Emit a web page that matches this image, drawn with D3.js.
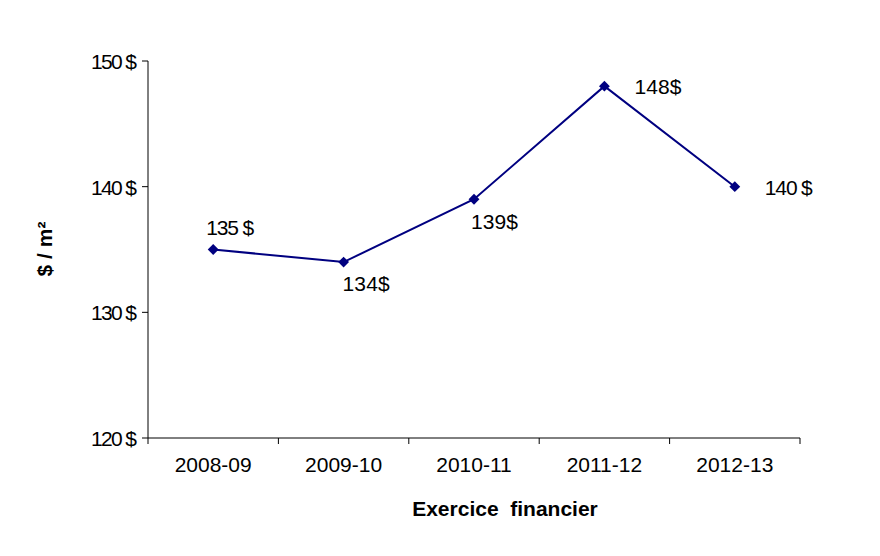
<!DOCTYPE html>
<html><head><meta charset="utf-8">
<script src="https://cdn.jsdelivr.net/npm/d3@7"></script>
<style>body{margin:0;background:#fff}svg text{font-family:"Liberation Sans",Arial,sans-serif}</style>
</head><body>
<svg id="c" width="880" height="556"></svg>
<script>
const categories = ["2008-09","2009-10","2010-11","2011-12","2012-13"];
const values = [135,134,139,148,140];
const pointLabels = ["135 $","134$","139$","148$","140 $"];
const yTicks = [120,130,140,150];
const yTickLabels = ["120 $","130 $","140 $","150 $"];

const svg = d3.select("#c");
const x = d3.scaleBand().domain(categories).range([148,800]);
const y = d3.scaleLinear().domain([120,150]).range([438,61]);
const fs = 21;

// y axis
svg.append("line").attr("x1",148).attr("x2",148).attr("y1",y(150)).attr("y2",y(120)).attr("stroke","#000");
yTicks.forEach((t,i)=>{
  svg.append("line").attr("x1",142).attr("x2",148).attr("y1",y(t)).attr("y2",y(t)).attr("stroke","#000");
  svg.append("text").attr("x",137).attr("y",y(t)+8).attr("text-anchor","end").attr("font-size",fs)
    .attr("textLength",46).attr("lengthAdjust","spacing").text(yTickLabels[i]);
});
// x axis
svg.append("line").attr("x1",148).attr("x2",800).attr("y1",438).attr("y2",438).attr("stroke","#000");
const edges = categories.map(c=>x(c)).concat([x.range()[1]]);
edges.forEach(e=>svg.append("line").attr("x1",e).attr("x2",e).attr("y1",438).attr("y2",444).attr("stroke","#000"));
categories.forEach(c=>svg.append("text").attr("x",x(c)+x.bandwidth()/2).attr("y",472).attr("text-anchor","middle").attr("font-size",fs).text(c));

// titles
svg.append("text").attr("x",505).attr("y",516).attr("text-anchor","middle").attr("font-size",fs).attr("font-weight","bold").style("white-space","pre").text("Exercice  financier");
svg.append("text").attr("transform","translate(52,249) rotate(-90)").attr("text-anchor","middle").attr("font-size",fs).attr("font-weight","bold").text("$ / m²");

// line
const cx = c=>x(c)+x.bandwidth()/2;
const line = d3.line().x((d,i)=>cx(categories[i])).y(d=>y(d));
svg.append("path").datum(values).attr("d",line).attr("fill","none").attr("stroke","#000080").attr("stroke-width",2);
svg.selectAll(".m").data(values).enter().append("path")
  .attr("d",d3.symbol().type(d3.symbolDiamond2).size(75))
  .attr("transform",(d,i)=>`translate(${cx(categories[i])},${y(d)})`)
  .attr("fill","#000080");
// point labels
const offs = [[-7,-15],[-1,29],[-3,30],[30,8],[30,8]];
values.forEach((v,i)=>{
  svg.append("text").attr("x",cx(categories[i])+offs[i][0]).attr("y",y(v)+offs[i][1]).attr("font-size",fs)
    .attr("textLength",pointLabels[i].includes(" ")?48:47).attr("lengthAdjust","spacing").text(pointLabels[i]);
});
</script>
</body></html>
